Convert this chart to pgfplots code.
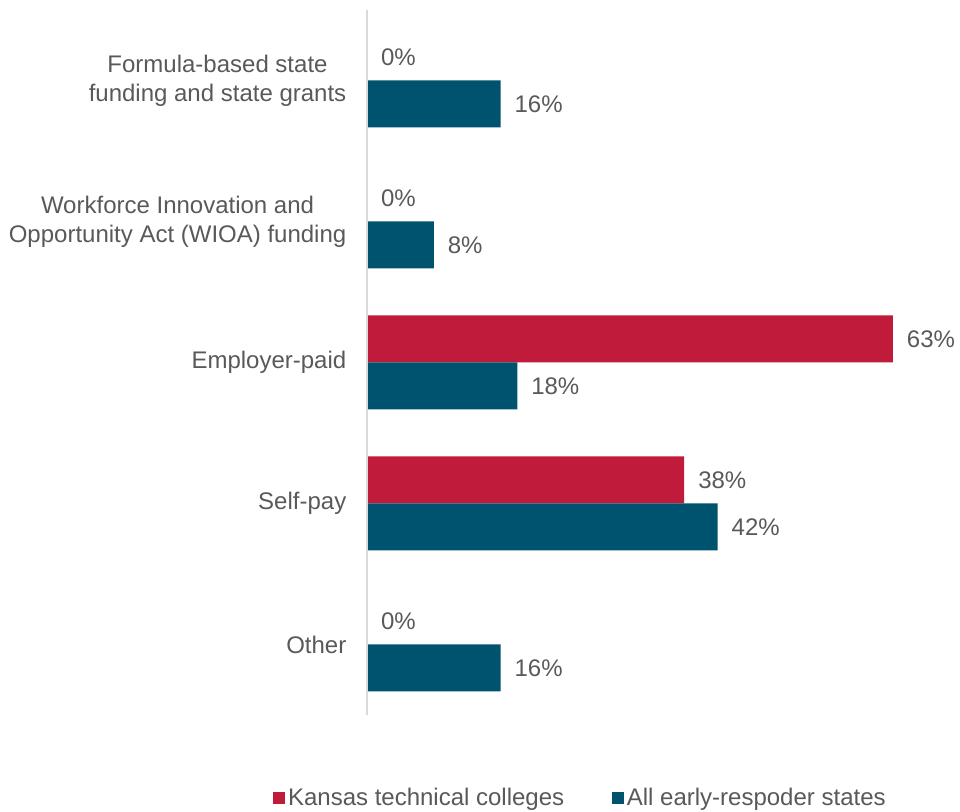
\documentclass[border=0pt]{standalone}
\usepackage{pgfplots}
\pgfplotsset{compat=1.18}
\usepackage{fontspec}
\setmainfont{Liberation Sans}

\definecolor{ksred}{HTML}{C01B3A}
\definecolor{allblue}{HTML}{00536F}
\definecolor{txtgray}{HTML}{595959}
\definecolor{axgray}{HTML}{D9D9D9}

\begin{document}
\begin{tikzpicture}[x=1pt,y=1pt]
\begin{axis}[
    name=ax,
    scale only axis,
    width=438.3pt, height=528.75pt,
    xbar, bar width=35.25pt,
    xmin=0, xmax=70,
    ymin=-0.5, ymax=4.5,
    axis x line=none,
    axis y line*=left,
    axis on top,
    y axis line style={draw=axgray, line width=1.2pt},
    ytick={0,1,2,3,4},
    yticklabels={Other, Self-pay, Employer-paid,
      {Workforce Innovation and\\Opportunity Act (WIOA) funding},
      {Formula-based state\\funding and state grants}},
    yticklabel style={align=center, font=\fontsize{18}{21.5}\selectfont, text=txtgray, xshift=-12pt},
    major tick length=0pt,
    clip=false,
    nodes near coords={\pgfplotspointmeta\%},
    nodes near coords style={anchor=west, xshift=7pt, font=\fontsize{18}{21.5}\selectfont, text=txtgray},
    point meta=explicit symbolic,
    legend columns=2,
    legend style={draw=none, at={(0.366,-0.1177)}, anchor=center,
      font=\fontsize{18}{21.5}\selectfont, text=txtgray,
      /tikz/every even column/.append style={column sep=34pt}},
    legend image code/.code={\fill[#1] (0pt,-4.5pt) rectangle (9pt,4.5pt);},
]
\addplot[fill=ksred, draw=none, bar shift=17.625pt] coordinates {
  (0,4) [0] (0,3) [0] (63,2) [63] (38,1) [38] (0,0) [0]};
\addplot[fill=allblue, draw=none, bar shift=-17.625pt] coordinates {
  (16,4) [16] (8,3) [8] (18,2) [18] (42,1) [42] (16,0) [16]};
\legend{Kansas technical colleges, All early-respoder states}
\end{axis}
\pgfresetboundingbox
\path[use as bounding box] ([xshift=-275.25pt, yshift=-72.75pt]ax.south west)
  rectangle ([xshift=444.75pt, yshift=7.5pt]ax.north west);
\end{tikzpicture}
\end{document}
